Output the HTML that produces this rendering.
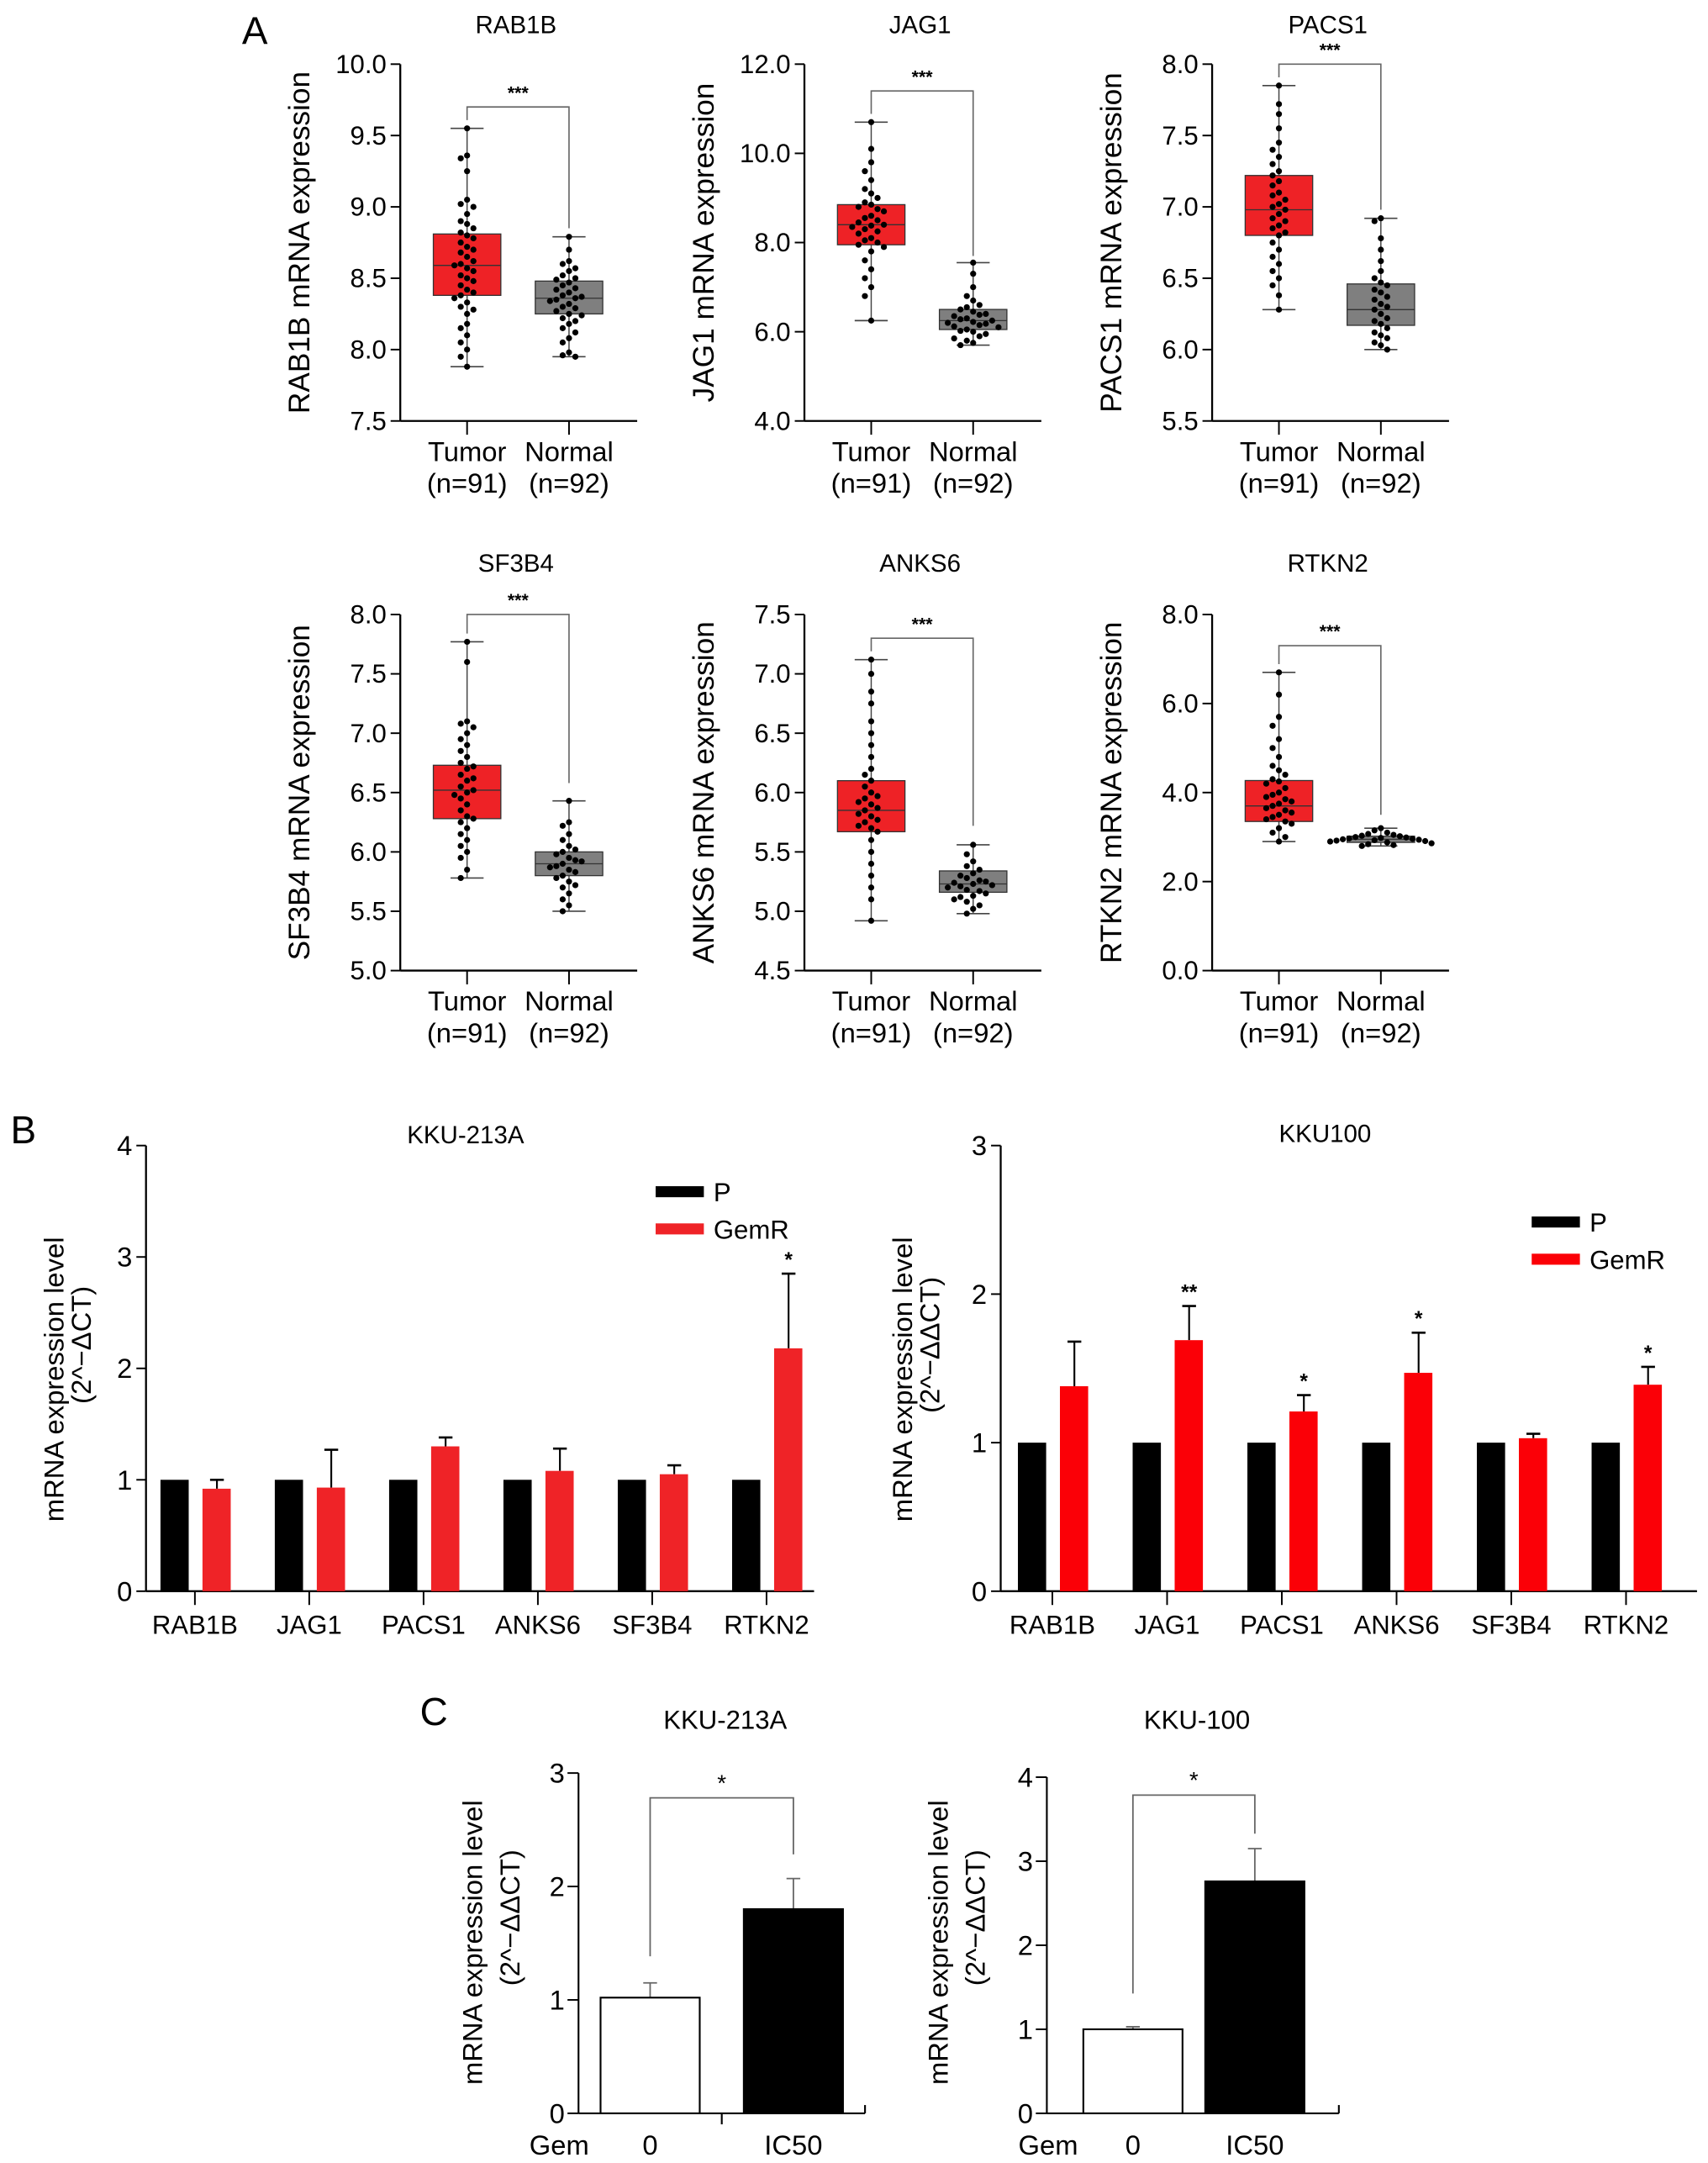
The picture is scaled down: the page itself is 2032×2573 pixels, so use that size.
<!DOCTYPE html>
<html><head><meta charset="utf-8">
<style>
html,body{margin:0;padding:0;background:#fff;}
svg{display:block;font-family:"Liberation Sans",Arial,sans-serif;}
</style></head>
<body>
<svg id="fig" width="2032" height="2573" viewBox="0 0 1240 1570" xmlns="http://www.w3.org/2000/svg"></svg>
<script>
// ---------- Panel A data ----------
const boxGenes = ["RAB1B","JAG1","PACS1","SF3B4","ANKS6","RTKN2"];
const boxTicks = [
  ["7.5","8.0","8.5","9.0","9.5","10.0"],
  ["4.0","6.0","8.0","10.0","12.0"],
  ["5.5","6.0","6.5","7.0","7.5","8.0"],
  ["5.0","5.5","6.0","6.5","7.0","7.5","8.0"],
  ["4.5","5.0","5.5","6.0","6.5","7.0","7.5"],
  ["0.0","2.0","4.0","6.0","8.0"]
];
// [min, q1, median, q3, max]
const tumorStats = [
  [7.88,8.38,8.59,8.81,9.55],[6.25,7.95,8.4,8.85,10.7],[6.28,6.8,6.98,7.22,7.85],
  [5.78,6.28,6.52,6.73,7.77],[4.92,5.67,5.85,6.1,7.12],[2.9,3.35,3.7,4.27,6.7]
];
const normalStats = [
  [7.95,8.25,8.36,8.48,8.79],[5.7,6.05,6.25,6.5,7.55],[6.0,6.17,6.28,6.46,6.92],
  [5.5,5.8,5.9,6.0,6.43],[4.98,5.16,5.23,5.34,5.56],[2.8,2.88,2.95,3.02,3.2]
];
const bracketTop = [9.7,11.4,8.0,8.0,7.3,7.3];
const bracketRight = [8.85,7.7,6.98,6.58,5.72,3.5];
const tumorDots = [
  [9.55,9.36,9.34,9.25,9.05,9.02,9.0,8.95,8.9,8.88,8.85,8.82,8.8,8.78,8.75,8.72,8.7,8.68,8.65,8.62,8.6,8.59,8.57,8.55,8.52,8.5,8.48,8.45,8.42,8.4,8.38,8.36,8.33,8.3,8.28,8.25,8.18,8.15,8.1,8.05,8.0,7.95,7.88],
  [10.7,10.1,9.8,9.6,9.4,9.2,9.1,9.0,8.9,8.85,8.8,8.75,8.7,8.6,8.55,8.5,8.45,8.4,8.38,8.35,8.3,8.25,8.2,8.1,8.05,8.0,7.95,7.9,7.8,7.6,7.4,7.2,7.0,6.8,6.25],
  [7.85,7.72,7.65,7.55,7.45,7.4,7.35,7.3,7.25,7.22,7.18,7.15,7.1,7.08,7.05,7.02,7.0,6.98,6.95,6.92,6.9,6.87,6.85,6.82,6.8,6.75,6.7,6.65,6.6,6.55,6.5,6.45,6.38,6.28],
  [7.77,7.6,7.1,7.08,7.05,7.0,6.95,6.9,6.85,6.8,6.75,6.72,6.7,6.65,6.62,6.6,6.55,6.52,6.5,6.48,6.45,6.4,6.35,6.3,6.28,6.25,6.2,6.15,6.1,6.05,6.0,5.95,5.85,5.78],
  [7.12,7.0,6.85,6.75,6.6,6.5,6.4,6.3,6.2,6.15,6.1,6.05,6.0,5.97,5.95,5.92,5.9,5.87,5.85,5.82,5.8,5.77,5.75,5.72,5.7,5.67,5.6,5.5,5.4,5.3,5.2,5.1,4.92],
  [6.7,6.2,5.7,5.5,5.2,5.0,4.8,4.6,4.5,4.4,4.3,4.25,4.2,4.1,4.0,3.95,3.9,3.85,3.8,3.75,3.7,3.65,3.6,3.55,3.5,3.45,3.4,3.35,3.3,3.2,3.1,3.0,2.9]
];
const normalDots = [
  [8.79,8.7,8.62,8.6,8.57,8.55,8.52,8.5,8.49,8.47,8.45,8.43,8.42,8.4,8.38,8.37,8.36,8.35,8.34,8.32,8.3,8.29,8.27,8.25,8.24,8.22,8.2,8.18,8.15,8.12,8.08,8.05,7.98,7.96,7.95],
  [7.55,7.3,7.0,6.8,6.7,6.6,6.55,6.5,6.45,6.4,6.38,6.35,6.3,6.28,6.25,6.22,6.2,6.18,6.15,6.12,6.1,6.05,6.02,6.0,5.95,5.9,5.85,5.8,5.75,5.7],
  [6.92,6.9,6.78,6.7,6.62,6.55,6.5,6.47,6.45,6.42,6.4,6.37,6.35,6.32,6.3,6.28,6.25,6.22,6.2,6.18,6.15,6.12,6.1,6.08,6.05,6.03,6.0],
  [6.43,6.25,6.22,6.15,6.1,6.05,6.02,6.0,5.98,5.95,5.93,5.92,5.9,5.88,5.87,5.85,5.83,5.8,5.78,5.75,5.72,5.7,5.65,5.6,5.55,5.5],
  [5.56,5.48,5.42,5.38,5.35,5.32,5.3,5.28,5.26,5.25,5.24,5.23,5.22,5.21,5.2,5.18,5.17,5.15,5.13,5.12,5.1,5.08,5.05,5.02,4.98],
  [3.2,3.15,3.1,3.07,3.05,3.03,3.02,3.0,2.99,2.98,2.97,2.96,2.95,2.94,2.93,2.92,2.91,2.9,2.88,2.86,2.84,2.82,2.8]
];

// ---------- Panel B data ----------
const bGenes = ["RAB1B","JAG1","PACS1","ANKS6","SF3B4","RTKN2"];
const b1P = [1,1,1,1,1,1];
const b1G = [0.92,0.93,1.30,1.08,1.05,2.18];
const b1Gerr = [0.08,0.34,0.08,0.20,0.08,0.67];
const b1Sig = ["","","","","","*"];
const b1Ticks = ["0","1","2","3","4"];
const b2P = [1,1,1,1,1,1];
const b2G = [1.38,1.69,1.21,1.47,1.03,1.39];
const b2Gerr = [0.30,0.23,0.11,0.27,0.03,0.12];
const b2Sig = ["","**","*","*","","*"];
const b2Ticks = ["0","1","2","3"];

// ---------- Panel C data ----------
const cCats = ["0","IC50"];
const c1Vals = [1.02,1.80];
const c1Err = [0.13,0.27];
const c1Ticks = ["0","1","2","3"];
const c2Vals = [1.0,2.76];
const c2Err = [0.03,0.39];
const c2Ticks = ["0","1","2","3","4"];

const NS = "http://www.w3.org/2000/svg";
const svg = document.getElementById("fig");
function el(tag, attrs, parent, txt) {
  const e = document.createElementNS(NS, tag);
  for (const k in attrs) e.setAttribute(k, attrs[k]);
  if (txt !== undefined) e.textContent = txt;
  (parent || svg).appendChild(e);
  return e;
}
function grp(name) {
  const g = el("g", {});
  
  
  return g;
}

// panel labels
[["A",185,32],["B",17,830],["C",315,1252]].forEach(p => {
  const t = el("text", {x:p[1], y:p[2], "font-size":28, "text-anchor":"middle"}, svg, p[0]);
  
  
});

// ---------- Panel A ----------
const axX = [290.6, 584, 880];
const rowTop = [46.5, 446];
const rowBot = [305.5, 704.5];
const titleBase = [24, 415];
boxGenes.forEach((gene, gi) => {
  const g = grp("boxplot-" + gene.toLowerCase());
  const row = Math.floor(gi/3);
  const ax = axX[gi % 3], top = rowTop[row], bot = rowBot[row];
  const ticks = boxTicks[gi];
  const lo = parseFloat(ticks[0]), hi = parseFloat(ticks[ticks.length-1]);
  const y = v => bot - (v - lo) / (hi - lo) * (bot - top);
  const xT = ax + 48.5, xN = ax + 122.5, xEnd = ax + 172;
  el("line", {x1:ax, y1:top, x2:ax, y2:bot, stroke:"#000", "stroke-width":1.4}, g);
  el("line", {x1:ax, y1:bot, x2:xEnd, y2:bot, stroke:"#000", "stroke-width":1.4}, g);
  ticks.forEach(t => {
    const v = parseFloat(t), yy = y(v);
    el("line", {x1:ax-7, y1:yy, x2:ax, y2:yy, stroke:"#000", "stroke-width":1.2}, g);
    const tl = el("text", {x:ax-10, y:yy+6.5, "font-size":19, "text-anchor":"end"}, g, t);
    
    
  });
  [xT, xN].forEach(xx => el("line", {x1:xx, y1:bot, x2:xx, y2:bot+10, stroke:"#000", "stroke-width":1.2}, g));
  const t1 = el("text", {x:(ax+xEnd)/2 - 2, y:titleBase[row], "font-size":18, "text-anchor":"middle"}, g, gene);
  
  
  const yt = el("text", {x:0, y:0, "font-size":21.5, "text-anchor":"middle", transform:`translate(${ax-66},${(top+bot)/2}) rotate(-90)`}, g, gene + " mRNA expression");
  
  
  [[xT,"Tumor","(n=91)"],[xN,"Normal","(n=92)"]].forEach(c => {
    const a = el("text", {x:c[0], y:bot+29, "font-size":20, "text-anchor":"middle"}, g, c[1]);
    
    
    const b = el("text", {x:c[0], y:bot+52, "font-size":20, "text-anchor":"middle"}, g, c[2]);
    
    
  });
  [[xT, tumorStats[gi], "#ee2226", tumorDots[gi], "tumor"],[xN, normalStats[gi], "#7f7f7f", normalDots[gi], "normal"]].forEach(b => {
    const [cx, s, col, dots, nm] = b;
    el("line", {x1:cx, y1:y(s[0]), x2:cx, y2:y(s[4]), stroke:"#444", "stroke-width":0.9}, g);
    el("line", {x1:cx-12, y1:y(s[0]), x2:cx+12, y2:y(s[0]), stroke:"#444", "stroke-width":1}, g);
    el("line", {x1:cx-12, y1:y(s[4]), x2:cx+12, y2:y(s[4]), stroke:"#444", "stroke-width":1}, g);
    const r = el("rect", {x:cx-24.5, y:y(s[3]), width:49, height:y(s[1])-y(s[3]), fill:col, stroke:"#333", "stroke-width":0.8}, g);
    
    
    el("line", {x1:cx-24.5, y1:y(s[2]), x2:cx+24.5, y2:y(s[2]), stroke:"#333", "stroke-width":0.8}, g);
    const placed = [];
    const sorted = dots.slice().sort((a,b)=>b-a);
    sorted.forEach(v => {
      const yy = y(v);
      let off = 0;
      for (let k = 0; k < 30; k++) {
        const cand = (k % 2 === 0 ? 1 : -1) * Math.ceil(k/2) * 4.6;
        if (!placed.some(p => Math.abs(p[0]-cand) < 4.0 && Math.abs(p[1]-yy) < 7)) { off = cand; break; }
      }
      placed.push([off, yy]);
      const d = el("circle", {cx:cx+off, cy:yy, r:2.2, fill:"#000"}, g);
      
      
    });
  });
  const bt = y(bracketTop[gi]);
  el("path", {d:`M${xT},${y(tumorStats[gi][4])-6} V${bt} H${xN} V${y(bracketRight[gi])}`, fill:"none", stroke:"#666", "stroke-width":1}, g);
  const st = el("text", {x:(xT+xN)/2, y:bt-6, "font-size":13, "font-weight":"bold", "text-anchor":"middle"}, g, "***");
  
  
});

// ---------- Panel B ----------
function barChartB(cfg) {
  const g = grp(cfg.name);
  const {ax, top, bot, xEnd, first, step, ticks, P, G, Gerr, sig} = cfg;
  const max = parseFloat(ticks[ticks.length-1]);
  const y = v => bot - v / max * (bot - top);
  el("line", {x1:ax, y1:top, x2:ax, y2:bot, stroke:"#000", "stroke-width":1.4}, g);
  el("line", {x1:ax, y1:bot, x2:xEnd, y2:bot, stroke:"#000", "stroke-width":1.4}, g);
  ticks.forEach(t => {
    const yy = y(parseFloat(t));
    el("line", {x1:ax-7, y1:yy, x2:ax, y2:yy, stroke:"#000", "stroke-width":1.2}, g);
    const tl = el("text", {x:ax-10, y:yy+7, "font-size":20, "text-anchor":"end"}, g, t);
    
    
  });
  bGenes.forEach((gn, i) => {
    const cx = first + i * step;
    el("line", {x1:cx, y1:bot, x2:cx, y2:bot+10, stroke:"#000", "stroke-width":1.2}, g);
    const tl = el("text", {x:cx, y:bot+31, "font-size":19, "text-anchor":"middle"}, g, gn);
    
    
    const bp = el("rect", {x:cx-25, y:y(P[i]), width:20.5, height:bot-y(P[i]), fill:"#000"}, g);
    
    
    const ytop = y(G[i] + Gerr[i]);
    el("line", {x1:cx+16, y1:y(G[i]), x2:cx+16, y2:ytop, stroke:"#000", "stroke-width":1.3}, g);
    el("line", {x1:cx+11, y1:ytop, x2:cx+21, y2:ytop, stroke:"#000", "stroke-width":1.6}, g);
    const bg = el("rect", {x:cx+5.5, y:y(G[i]), width:20.5, height:bot-y(G[i]), fill:cfg.red}, g);
    
    
    if (sig[i]) {
      const s = el("text", {x:cx+16, y:ytop-5, "font-size":15, "font-weight":"bold", "text-anchor":"middle"}, g, sig[i]);
      
      
    }
  });
  const tt = el("text", {x:cfg.titleX, y:cfg.titleY, "font-size":18, "text-anchor":"middle"}, g, cfg.title);
  
  
  const cy = (top + bot) / 2 + 8;
  const y1 = el("text", {x:0, y:0, "font-size":20, "text-anchor":"middle", transform:`translate(${cfg.ytX},${cy}) rotate(-90)`}, g, "mRNA expression level");
  
  
  const y2 = el("text", {x:0, y:0, "font-size":20, "text-anchor":"middle", transform:`translate(${cfg.ytX+20},${cy-25}) rotate(-90)`}, g, cfg.yunit);
  
  
  [["P","#000",cfg.legY],["GemR",cfg.red,cfg.legY+27]].forEach(l => {
    const lr = el("rect", {x:cfg.legX, y:l[2]-4, width:35, height:8, fill:l[1]}, g);
    
    
    const lt = el("text", {x:cfg.legX+42, y:l[2]+7, "font-size":19}, g, l[0]);
    
    
  });
}
barChartB({name:"bar-chart-kku213a", ax:106, top:831.5, bot:1155, xEnd:591, first:141.5, step:83, ticks:b1Ticks, P:b1P, G:b1G, Gerr:b1Gerr, sig:b1Sig, red:"#ef2327", title:"KKU-213A", titleX:338, titleY:830, ytX:46, yunit:"(2^−ΔCT)", legX:476, legY:865});
barChartB({name:"bar-chart-kku100", ax:726.5, top:831.5, bot:1155, xEnd:1232, first:764, step:83.3, ticks:b2Ticks, P:b2P, G:b2G, Gerr:b2Gerr, sig:b2Sig, red:"#fb0007", title:"KKU100", titleX:962, titleY:829, ytX:662, yunit:"(2^−ΔΔCT)", legX:1112, legY:887});

// ---------- Panel C ----------
function barChartC(cfg) {
  const g = grp(cfg.name);
  const {ax, top, bot, xEnd, centers, ticks, vals, err} = cfg;
  const max = parseFloat(ticks[ticks.length-1]);
  const y = v => bot - v / max * (bot - top);
  el("line", {x1:ax, y1:top, x2:ax, y2:bot, stroke:"#000", "stroke-width":1.3}, g);
  el("line", {x1:ax, y1:bot, x2:xEnd, y2:bot, stroke:"#000", "stroke-width":1.3}, g);
  el("line", {x1:xEnd, y1:bot-6, x2:xEnd, y2:bot, stroke:"#000", "stroke-width":1.3}, g);
  if (cfg.midTick) el("line", {x1:cfg.midTick, y1:bot, x2:cfg.midTick, y2:bot+8, stroke:"#000", "stroke-width":1.3}, g);
  ticks.forEach(t => {
    const yy = y(parseFloat(t));
    el("line", {x1:ax-8, y1:yy, x2:ax, y2:yy, stroke:"#000", "stroke-width":1.2}, g);
    const tl = el("text", {x:ax-10, y:yy+7, "font-size":20, "text-anchor":"end"}, g, t);
    
    
  });
  cCats.forEach((c, i) => {
    const cx = centers[i];
    const et = y(vals[i] + err[i]);
    el("line", {x1:cx, y1:y(vals[i]), x2:cx, y2:et, stroke:"#666", "stroke-width":1.1}, g);
    el("line", {x1:cx-5, y1:et, x2:cx+5, y2:et, stroke:"#666", "stroke-width":1.1}, g);
    const r = el("rect", {x:cx-36, y:y(vals[i]), width:72, height:bot-y(vals[i]), fill:i===0?"#fff":"#000", stroke:"#000", "stroke-width":1.3}, g);
    
    
    const tl = el("text", {x:cx, y:bot+30, "font-size":20, "text-anchor":"middle"}, g, c);
    
    
  });
  const gm = el("text", {x:cfg.gemX, y:bot+30, "font-size":20, "text-anchor":"middle"}, g, "Gem");
  
  
  el("path", {d:`M${centers[0]},${cfg.brL} V${cfg.brTop} H${centers[1]} V${cfg.brR}`, fill:"none", stroke:"#666", "stroke-width":1.1}, g);
  const st = el("text", {x:(centers[0]+centers[1])/2, y:cfg.brTop-5, "font-size":17, "text-anchor":"middle"}, g, "*");
  
  
  const tt = el("text", {x:cfg.titleX, y:1255, "font-size":19, "text-anchor":"middle"}, g, cfg.title);
  
  
  const y1 = el("text", {x:0, y:0, "font-size":20, "text-anchor":"middle", transform:`translate(${cfg.ytX+7},1410) rotate(-90)`}, g, "mRNA expression level");
  
  
  const y2 = el("text", {x:0, y:0, "font-size":20, "text-anchor":"middle", transform:`translate(${cfg.ytX+34},1392) rotate(-90)`}, g, "(2^−ΔΔCT)");
  
  
}
barChartC({name:"bar-chart-c-kku213a", ax:420, top:1287, bot:1534, xEnd:628, midTick:524, centers:[472,576], ticks:c1Ticks, vals:c1Vals, err:c1Err, gemX:406, brTop:1305, brL:1420, brR:1346, title:"KKU-213A", titleX:526.5, ytX:343});
barChartC({name:"bar-chart-c-kku100", ax:760, top:1290, bot:1534, xEnd:972, midTick:0, centers:[822.5,911], ticks:c2Ticks, vals:c2Vals, err:c2Err, gemX:761, brTop:1303, brL:1447, brR:1331, title:"KKU-100", titleX:869, ytX:681});
</script>
</body></html>
